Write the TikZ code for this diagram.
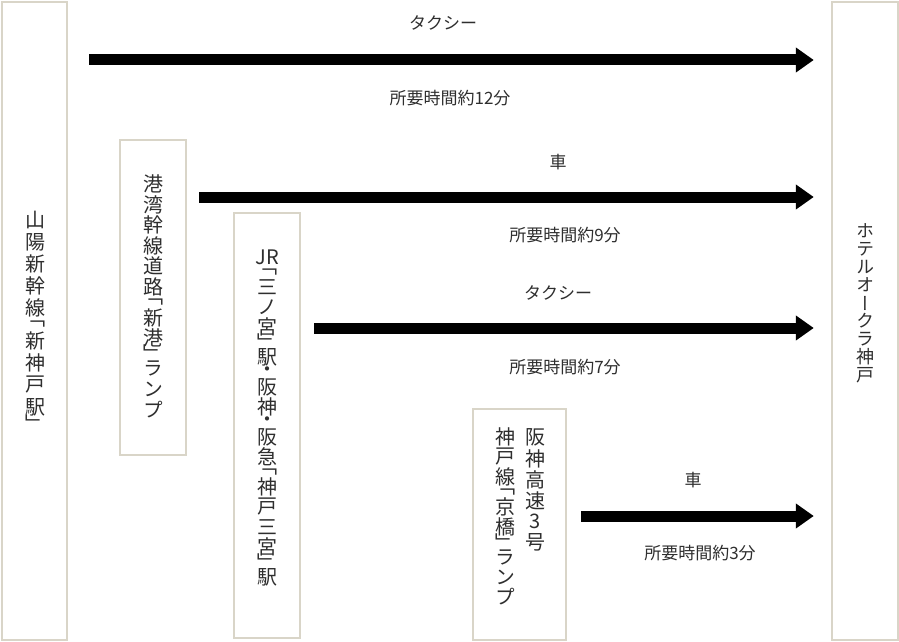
\documentclass[tikz,border=0pt]{standalone}
\usepackage{fontspec}
\usepackage{tikz}
\usetikzlibrary{calc}
\usetikzlibrary{positioning}
\usetikzlibrary{arrows.meta}

\newfontfamily\jpfont{Noto Sans CJK JP}
\newfontfamily\jpvfont[RawFeature={+vert}]{Noto Sans CJK JP}
\definecolor{frame}{HTML}{D9D5C8}
\definecolor{ink}{HTML}{2E2E2E}

\begin{document}
\begin{tikzpicture}[x=1pt, y=-1pt,
    box/.style={rectangle, draw=frame, line width=2.5pt, inner sep=0pt},
    ch/.style={inner sep=0pt, text=ink, font=\jpvfont\fontsize{20}{20}\selectfont},
    chs/.style={ch, font=\jpvfont\fontsize{18}{18}\selectfont},
    lab/.style={inner sep=0pt, text=ink, font=\jpfont\fontsize{17}{18}\selectfont},
    arr/.style={line width=11pt, -{Triangle[width=24pt, length=18pt]}}]
    \useasboundingbox (0,0) rectangle (899,642);

    % boxes
    \node[box, minimum width=65pt, minimum height=638pt] (sanyo) at (34.5,321) {};
    \node[box, minimum width=66pt, minimum height=315pt] (shinko) at (153,297.5) {};
    \node[box, minimum width=66pt, minimum height=425pt] (sannomiya) at (267,425.5) {};
    \node[box, minimum width=93pt, minimum height=231pt] (kyobashi) at (519.5,524.5) {};
    \node[box, minimum width=66pt, minimum height=638pt] (hotel) at (865,321) {};

    % vertical texts
    \coordinate (A) at (35,209);
    \foreach \c/\h [count=\i] in {山/22,陽/22,新/22,幹/22,線/22,「/11,新/22,神/22,戸/22,駅/22,」/11}
    {
        \node[ch] (sanyo-\i) at ($(A) + (0,\h/2)$) {\c};
        \coordinate (A) at ($(A) + (0,\h)$);
    }
    \coordinate (A) at (153,174);
    \foreach \c/\h [count=\i] in {港/20.5,湾/20.5,幹/20.5,線/20.5,道/20.5,路/20.5,「/10.25,新/20.5,港/20.5,」/10.25,ラ/20.5,ン/20.5,プ/20.5}
    {
        \node[ch] (shinko-\i) at ($(A) + (0,\h/2)$) {\c};
        \coordinate (A) at ($(A) + (0,\h)$);
    }
    \coordinate (A) at (267,247);
    \foreach \c/\h [count=\i] in {JR/20,「/10,三/20,ノ/20,宮/20,」/10,駅/20,・/10,阪/20,神/20,・/10,阪/20,急/20,「/10,神/20,戸/20,三/20,宮/20,」/10,駅/20}
    {
        \node[ch] (sannomiya-\i) at ($(A) + (0,\h/2)$) {\c};
        \coordinate (A) at ($(A) + (0,\h)$);
    }
    \coordinate (A) at (535,427);
    \foreach \c/\h [count=\i] in {阪/21,神/21,高/21,速/21,3/21,号/21}
    {
        \node[ch] (hanshin-\i) at ($(A) + (0,\h/2)$) {\c};
        \coordinate (A) at ($(A) + (0,\h)$);
    }
    \coordinate (A) at (505,427);
    \foreach \c/\h [count=\i] in {神/20,戸/20,線/20,「/10,京/20,橋/20,」/10,ラ/20,ン/20,プ/20}
    {
        \node[ch] (kyobashi-\i) at ($(A) + (0,\h/2)$) {\c};
        \coordinate (A) at ($(A) + (0,\h)$);
    }
    \coordinate (A) at (865,222);
    \foreach \c/\h [count=\i] in {ホ/18,テ/18,ル/18,オ/18,ー/18,ク/18,ラ/18,神/18,戸/18}
    {
        \node[chs] (hotel-\i) at ($(A) + (0,\h/2)$) {\c};
        \coordinate (A) at ($(A) + (0,\h)$);
    }

    % arrows
    \coordinate (r1) at (0,60);
    \coordinate (r2) at (0,197);
    \coordinate (r3) at (0,328);
    \coordinate (r4) at (0,516);
    \draw[arr, shorten <=21pt, shorten >=17pt] (sanyo.east |- r1) -- (hotel.west |- r1);
    \draw[arr, shorten <=12pt, shorten >=17pt] (shinko.east |- r2) -- (hotel.west |- r2);
    \draw[arr, shorten <=13pt, shorten >=17pt] (sannomiya.east |- r3) -- (hotel.west |- r3);
    \draw[arr, shorten <=14pt, shorten >=17pt] (kyobashi.east |- r4) -- (hotel.west |- r4);

    % labels
    \node[lab] (taxi1) at (443,23) {タクシー};
    \node[lab] (time1) at (450,98) {所要時間約12分};
    \node[lab] (car2) at (558,162) {車};
    \node[lab] (time2) at (565,235) {所要時間約9分};
    \node[lab] (taxi3) at (558,293) {タクシー};
    \node[lab] (time3) at (565,367) {所要時間約7分};
    \node[lab] (car4) at (693,480) {車};
    \node[lab] (time4) at (700,553) {所要時間約3分};
\end{tikzpicture}
\end{document}
